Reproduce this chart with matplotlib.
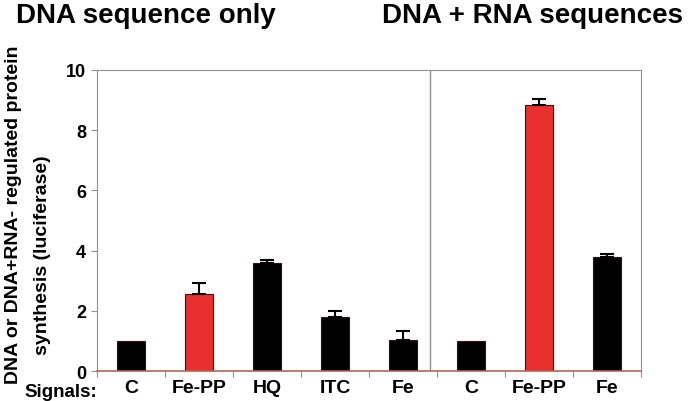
import matplotlib
matplotlib.use('Agg')
import matplotlib.pyplot as plt
import numpy as np

plt.rcParams['font.family'] = ['Liberation Sans', 'DejaVu Sans']
plt.rcParams['font.weight'] = 'bold'

labels = ['C', 'Fe-PP', 'HQ', 'ITC', 'Fe', 'C', 'Fe-PP', 'Fe']
values = [1.0, 2.56, 3.58, 1.78, 1.04, 1.0, 8.85, 3.79]
errors = [0.0, 0.35, 0.11, 0.20, 0.30, 0.0, 0.19, 0.11]
colors = ['black', '#e8302f', 'black', 'black', 'black', 'black', '#e8302f', 'black']
ylabel_lines = ['DNA or DNA+RNA- regulated protein', 'synthesis (luciferase)']

fig = plt.figure(figsize=(6.89, 4.02), dpi=100)
ax = fig.add_axes([0.1408, 0.0746, 0.7895, 0.7488])

x = np.arange(len(labels)) + 0.5
ax.bar(x, values, width=0.42, color=colors, edgecolor='#3a1010', linewidth=0.8, zorder=2)
for xi, v, e in zip(x, values, errors):
    if e > 0:
        ax.errorbar(xi, v, yerr=[[0], [e]], fmt='none', ecolor='black',
                    elinewidth=1.5, capsize=5, capthick=1.5, zorder=3)

ax.set_xlim(0, 8)
ax.set_ylim(0, 10)
ax.axvline(4.9, color='#909090', linewidth=1)

ax.set_yticks([0, 2, 4, 6, 8, 10])
ax.tick_params(axis='y', direction='out', length=4, color='#909090', labelsize=13, pad=4)
ax.set_xticks(np.arange(0, 9), minor=False)
ax.set_xticklabels([])
ax.tick_params(axis='x', which='major', direction='out', length=4, color='#909090')
ax.set_xticks(x, minor=True)
ax.set_xticklabels(labels, minor=True)
ax.tick_params(axis='x', which='minor', length=0, labelsize=14, pad=6)

for s in ['left', 'top', 'right']:
    ax.spines[s].set_color('#909090')
ax.spines['bottom'].set_color('#b5654f')
ax.spines['bottom'].set_linewidth(1.2)

# y label drawn as two rotated lines, as in the original figure
fig.text(0.019, 0.465, ylabel_lines[0], fontsize=14, fontweight='bold',
         rotation=90, ha='center', va='center')
fig.text(0.061, 0.366, ylabel_lines[1], fontsize=14, fontweight='bold',
         rotation=90, ha='center', va='center')

fig.text(0.036, 0.023, 'Signals:', fontsize=13.5, fontweight='bold', va='center')
fig.text(0.023, 0.943, 'DNA sequence only', fontsize=20, fontweight='bold', va='baseline')
fig.text(0.992, 0.943, 'DNA + RNA sequences', fontsize=20, fontweight='bold', va='baseline', ha='right')

plt.savefig('out.png', dpi=100)
